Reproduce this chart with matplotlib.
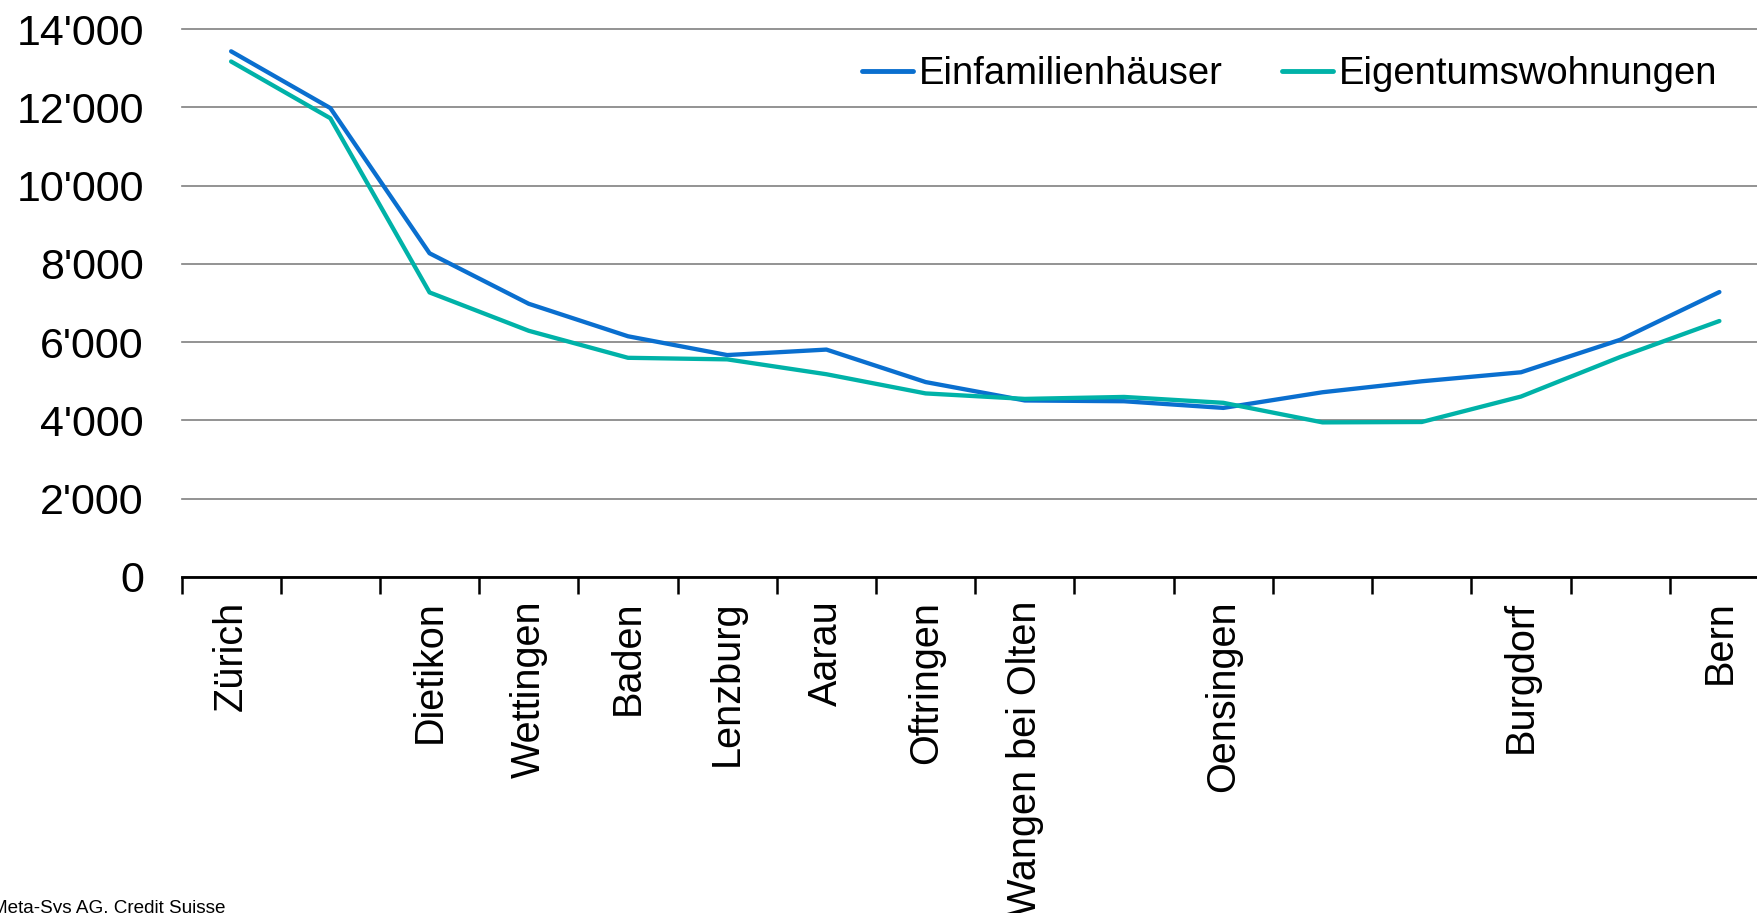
import matplotlib
matplotlib.use("Agg")
import matplotlib.pyplot as plt
from matplotlib.ticker import FuncFormatter, FixedLocator

plt.rcParams['font.family'] = ['Liberation Sans', 'DejaVu Sans']

# stations along the line, gaps are unnamed stops
orte = ['Zürich', '', 'Dietikon', 'Wettingen', 'Baden', 'Lenzburg', 'Aarau',
        'Oftringen', 'Wangen bei Olten', '', 'Oensingen', '', '', 'Burgdorf',
        '', 'Bern']
einfamilienhaeuser = [13430, 11980, 8270, 6980, 6150, 5670, 5810, 4980,
                      4510, 4490, 4320, 4720, 5000, 5230, 6060, 7280]
eigentumswohnungen = [13170, 11720, 7270, 6290, 5600, 5560, 5180, 4690,
                      4550, 4600, 4450, 3950, 3960, 4610, 5620, 6540]
y_ticks = [0, 2000, 4000, 6000, 8000, 10000, 12000, 14000]

blue = '#0a6fcf'
teal = '#00b2a8'

W, H = 1757, 913
fig = plt.figure(figsize=(W / 100, H / 100), dpi=100)
ax = fig.add_axes([181.5 / W, 1 - 577 / H, (1769 - 181.5) / W, (577 - 29) / H])

x = range(len(orte))
ax.plot(x, einfamilienhaeuser, color=blue, lw=3.1, solid_capstyle='round',
        label='Einfamilienhäuser', zorder=3)
ax.plot(x, eigentumswohnungen, color=teal, lw=3.1, solid_capstyle='round',
        label='Eigentumswohnungen', zorder=3)

ax.set_xlim(-0.5, len(orte) - 0.5)
ax.set_ylim(0, 14000)

# category labels at centres, tick marks at the boundaries
ax.set_xticks(list(x))
ax.set_xticklabels(orte, rotation=90, fontsize=28.5, va='top', ha='center')
ax.tick_params(axis='x', which='major', length=0, pad=17)
ax.xaxis.set_minor_locator(FixedLocator([i - 0.5 for i in range(len(orte) + 1)]))
ax.tick_params(axis='x', which='minor', length=12, width=1.8, color='black',
               direction='out')

ax.set_yticks(y_ticks)
ax.yaxis.set_major_formatter(FuncFormatter(lambda v, p: f"{v:,.0f}".replace(",", "'")))
ax.tick_params(axis='y', length=0, pad=27, labelsize=31)
ax.grid(axis='y', color='#808080', lw=1.2, clip_on=False)

for s in ['left', 'right', 'top']:
    ax.spines[s].set_visible(False)
ax.spines['bottom'].set_linewidth(2)
ax.spines['bottom'].set_zorder(4)

ax.legend(loc='center right', bbox_to_anchor=(1733 / W, 1 - 74 / H),
          bbox_transform=fig.transFigure, ncol=2, frameon=False,
          fontsize=27.5, handlelength=1.35, handletextpad=0.15,
          columnspacing=1.55, borderaxespad=0)
for line in ax.get_legend().get_lines():
    line.set_linewidth(3.5)

fig.text(-8 / W, 1 - 900 / H, 'Meta-Sys AG, Credit Suisse', fontsize=13.6,
         va='top', ha='left')

fig.savefig('out.png', dpi=100)
